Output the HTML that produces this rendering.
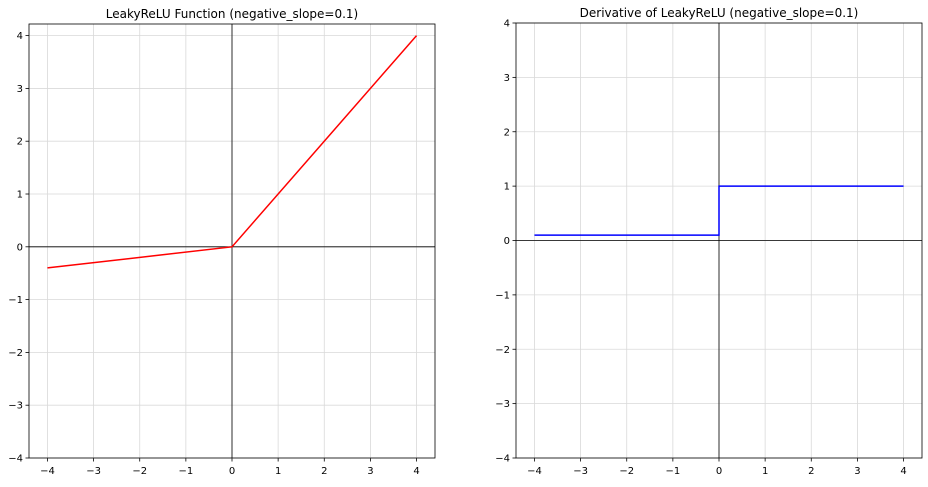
<!DOCTYPE html>
<html><head><meta charset="utf-8"><style>
body{margin:0;background:#fff;font-family:"Liberation Sans","DejaVu Sans",sans-serif;}
svg text{font-family:"DejaVu Sans","Liberation Sans",sans-serif;}
</style></head><body>
<svg id="c" width="928" height="482"></svg>
<script>
const xs=[-4,-3,-2,-1,0,1,2,3,4];
const ys=[-4,-3,-2,-1,0,1,2,3,4];
const slope=0.1;
const leakyX=[-4,0,4];
const leakyY=[-0.4,0,4];
const derivX=[-4,0,0,4];
const derivY=[0.1,0.1,1,1];
const titles=["LeakyReLU Function (negative_slope=0.1)","Derivative of LeakyReLU (negative_slope=0.1)"];
const NS="http://www.w3.org/2000/svg";
const svg=document.getElementById('c');
function el(t,a,p){const e=document.createElementNS(NS,t);for(const k in a)e.setAttribute(k,a[k]);(p||svg).appendChild(e);return e;}
const panels=[
 {L:29,R:435,T:24,B:458,xmin:-4.4,xmax:4.4,ymin:-4,ymax:4.22,px:leakyX,py:leakyY,col:"red",name:"leaky-relu"},
 {L:516,R:922,T:23,B:458,xmin:-4.4,xmax:4.4,ymin:-4,ymax:4,px:derivX,py:derivY,col:"blue",name:"leaky-relu-derivative"}];
panels.forEach((p,i)=>{
 const g=el('g',{});
 
 
 const X=v=>p.L+(v-p.xmin)/(p.xmax-p.xmin)*(p.R-p.L);
 const Y=v=>p.B-(v-p.ymin)/(p.ymax-p.ymin)*(p.B-p.T);
 xs.forEach(v=>{
  const l=el('line',{x1:X(v),x2:X(v),y1:p.T,y2:p.B,stroke:'#d9d9d9','stroke-width':0.8},g);
  
  el('line',{x1:X(v),x2:X(v),y1:p.B,y2:p.B+3.5,stroke:'#000','stroke-width':0.8},g);
  const t=el('text',{x:X(v),y:p.B+16,'font-size':10,'text-anchor':'middle',fill:'#000'},g);
  t.textContent=v<0?'\u2212'+(-v):v;
  
 });
 ys.forEach(v=>{
  const l=el('line',{x1:p.L,x2:p.R,y1:Y(v),y2:Y(v),stroke:'#d9d9d9','stroke-width':0.8},g);
  
  el('line',{x1:p.L-3.5,x2:p.L,y1:Y(v),y2:Y(v),stroke:'#000','stroke-width':0.8},g);
  const t=el('text',{x:p.L-6,y:Y(v)+3.5,'font-size':10,'text-anchor':'end',fill:'#000'},g);
  t.textContent=v<0?'\u2212'+(-v):v;
  
 });
 const a1=el('line',{x1:p.L,x2:p.R,y1:Y(0),y2:Y(0),stroke:'#000','stroke-width':0.8},g);
 
 const a2=el('line',{x1:X(0),x2:X(0),y1:p.T,y2:p.B,stroke:'#000','stroke-width':0.8},g);
 
 const pts=p.px.map((x,k)=>X(x)+','+Y(p.py[k])).join(' ');
 const pl=el('polyline',{points:pts,fill:'none',stroke:p.col,'stroke-width':1.5},g);
 
 const fr=el('rect',{x:p.L,y:p.T,width:p.R-p.L,height:p.B-p.T,fill:'none',stroke:'#000','stroke-width':0.8},g);
 
 const tt=el('text',{x:(p.L+p.R)/2,y:p.T-6,'font-size':12,'text-anchor':'middle',fill:'#000'},g);
 tt.textContent=titles[i];
 
});
</script>
</body></html>
